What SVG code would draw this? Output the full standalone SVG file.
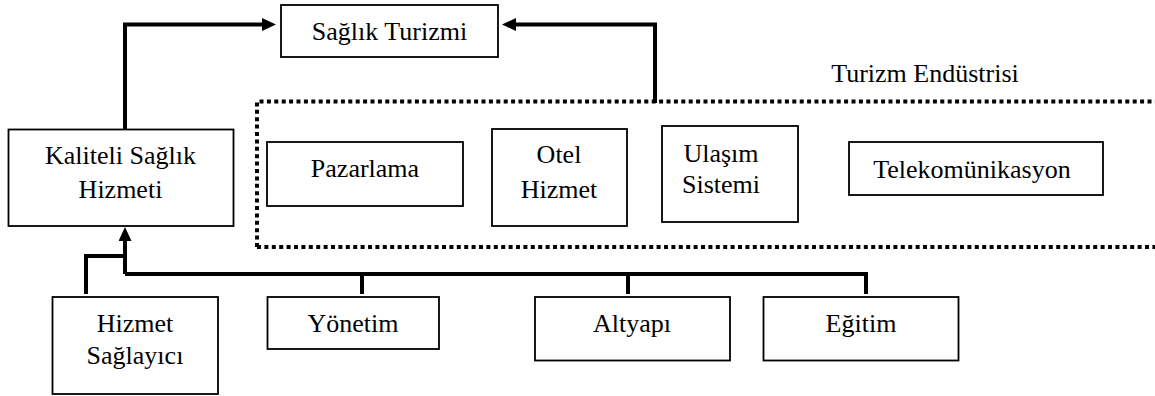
<svg xmlns="http://www.w3.org/2000/svg" width="1155" height="396" viewBox="0 0 1155 396">
<style>
.box{fill:#fff;stroke:#000;stroke-width:1.8}
.t{font-size:26px;fill:#000;text-anchor:middle}
.c{fill:none;stroke:#000;stroke-width:4;stroke-linejoin:miter}
.dot{fill:none;stroke:#000;stroke-width:4;stroke-dasharray:4 3.4}
</style>
<defs>
<marker id="ah" viewBox="0 0 14 13" refX="8" refY="6.5" markerWidth="14" markerHeight="13" markerUnits="userSpaceOnUse" orient="auto">
<path d="M0,0 L14,6.5 L0,13 z" fill="#000"/>
</marker>
</defs>
<g id="connectors">
<path class="c" d="M125,129 V24.5 H270" marker-end="url(#ah)"/>
<path class="c" d="M655,103 V24.5 H508" marker-end="url(#ah)"/>
<path class="c" d="M125,274 V233" marker-end="url(#ah)"/>
<path class="c" d="M125,274 H866 V294"/>
<path class="c" d="M362,274 V294"/>
<path class="c" d="M628,274 V294"/>
<path class="c" d="M125,256 H86 V294"/>
</g>
<g font-family="Liberation Serif, Times New Roman, DejaVu Serif, serif">
<g id="turizm-endustrisi">
<path class="dot" d="M257,247 V101.5 H1155"/>
<path class="dot" d="M257,247 H1155"/>
<text class="t" x="925" y="82">Turizm Endüstrisi</text>
</g>
<g id="saglik-turizmi">
<rect class="box" x="281" y="5" width="217" height="52"/>
<text class="t" x="389.5" y="40">Sağlık Turizmi</text>
</g>
<g id="kaliteli">
<rect class="box" x="8.5" y="129.5" width="225" height="96.5"/>
<text class="t" x="120.5" y="164">Kaliteli Sağlık</text>
<text class="t" x="120.5" y="198">Hizmeti</text>
</g>
<g id="pazarlama">
<rect class="box" x="267" y="142" width="196" height="64"/>
<text class="t" x="365" y="177">Pazarlama</text>
</g>
<g id="otel">
<rect class="box" x="492" y="129" width="135" height="97"/>
<text class="t" x="559" y="163">Otel</text>
<text class="t" x="559" y="198">Hizmet</text>
</g>
<g id="ulasim">
<rect class="box" x="662" y="126" width="136" height="96"/>
<text class="t" x="721" y="162">Ulaşım</text>
<text class="t" x="721" y="193">Sistemi</text>
</g>
<g id="telekom">
<rect class="box" x="849" y="142" width="254" height="53"/>
<text class="t" x="972" y="178">Telekomünikasyon</text>
</g>
<g id="hizmet-saglayici">
<rect class="box" x="52.5" y="297" width="165.5" height="97"/>
<text class="t" x="135" y="332">Hizmet</text>
<text class="t" x="135" y="364">Sağlayıcı</text>
</g>
<g id="yonetim">
<rect class="box" x="267.5" y="297" width="171.5" height="52"/>
<text class="t" x="353" y="332">Yönetim</text>
</g>
<g id="altyapi">
<rect class="box" x="535" y="297" width="195" height="63.5"/>
<text class="t" x="632" y="332">Altyapı</text>
</g>
<g id="egitim">
<rect class="box" x="763.5" y="297" width="195" height="63.5"/>
<text class="t" x="861" y="332">Eğitim</text>
</g>
</g>
</svg>
